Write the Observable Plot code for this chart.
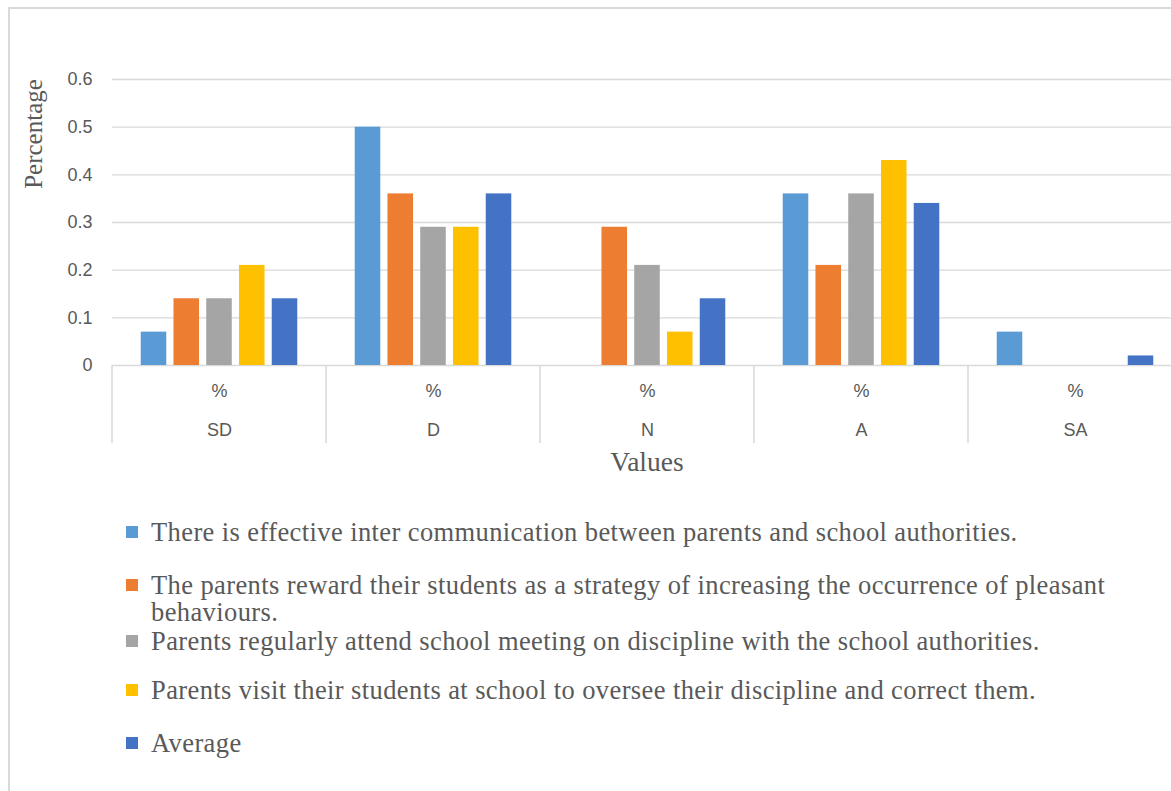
<!DOCTYPE html>
<html>
<head>
<meta charset="utf-8">
<script src="https://cdn.jsdelivr.net/npm/d3@7"></script>
<script src="https://cdn.jsdelivr.net/npm/@observablehq/plot@0.6"></script>
<style>
  html, body { margin: 0; padding: 0; overflow: hidden; background: #fff; width: 1171px; height: 791px; }
  #frame { position: absolute; left: 8px; top: 7px; width: 1200px; height: 800px; border: 2px solid #d9d9d9; box-sizing: border-box; }
  #chart { position: absolute; left: 0; top: 0; width: 1200px; }
  #chart svg { max-width: none !important; }
  .lbl { position: absolute; font-family: "Liberation Serif", "Times New Roman", serif; color: #595959; white-space: nowrap; }
  #ylabel { left: 34px; top: 134px; font-size: 25px; transform: translate(-50%, -50%) rotate(-90deg); }
  #xlabel { left: 647px; top: 462px; font-size: 27.5px; transform: translate(-50%, -50%); }
  .leg { position: absolute; left: 126px; font-family: "Liberation Serif", "Times New Roman", serif; color: #595959; font-size: 26.5px; letter-spacing: 0.4px; line-height: 27px; white-space: nowrap; }
  .leg .sw { position: absolute; left: 0; top: 7.5px; width: 12px; height: 12px; }
  .leg .tx { position: absolute; left: 25px; top: 0; }
</style>
</head>
<body>
<div id="frame"></div>
<div id="chart"></div>
<div class="lbl" id="ylabel">Percentage</div>
<div class="lbl" id="xlabel">Values</div>
<div id="legend"></div>
<script>
const categories = ["SD", "D", "N", "A", "SA"];
const series = [
  "There is effective inter communication between parents and school authorities.",
  "The parents reward their students as a strategy of increasing the occurrence of pleasant behaviours.",
  "Parents regularly attend school meeting on discipline with the school authorities.",
  "Parents visit their students at school to oversee their discipline and correct them.",
  "Average"
];
const colors = ["#5B9BD5", "#ED7D31", "#A5A5A5", "#FFC000", "#4472C4"];
const valuesCommunication = [0.07, 0.50, 0.00, 0.36, 0.07];
const valuesReward        = [0.14, 0.36, 0.29, 0.21, 0.00];
const valuesMeeting       = [0.14, 0.29, 0.21, 0.36, 0.00];
const valuesVisit         = [0.21, 0.29, 0.07, 0.43, 0.00];
const valuesAverage       = [0.14, 0.36, 0.14, 0.34, 0.02];
const yTicks = [0, 0.1, 0.2, 0.3, 0.4, 0.5, 0.6];

const allValues = [valuesCommunication, valuesReward, valuesMeeting, valuesVisit, valuesAverage];
const data = [];
categories.forEach((c, ci) => {
  series.forEach((s, si) => {
    data.push({category: c, series: s, value: allValues[si][ci]});
  });
});

const axisFont = "Liberation Sans, Arial, sans-serif";
const W = 1190, H = 480;
const plot = Plot.plot({
  width: W,
  height: H,
  marginLeft: 112,
  marginRight: 8,
  marginTop: 79,
  marginBottom: 115,
  style: {fontFamily: axisFont, fontSize: "18px", color: "#595959", background: "transparent", overflow: "visible", maxWidth: "none"},
  fx: {domain: categories, padding: 0, round: false, axis: null},
  x: {domain: series, paddingInner: 0.22, paddingOuter: 0.877, round: false, axis: null},
  y: {domain: [0, 0.6], axis: null},
  color: {domain: series, range: colors},
  marks: [
    Plot.ruleY(yTicks, {stroke: "#d9d9d9", strokeWidth: 1.3}),
    Plot.axisY(yTicks, {tickSize: 0, tickPadding: 20, tickFormat: d => d === 0 ? "0" : d.toFixed(1), fill: "#595959", fontSize: 18, label: null}),
    Plot.barY(data, {fx: "category", x: "series", y: "value", fill: "series"}),
    Plot.axisFx({anchor: "bottom", tickSize: 0, tickPadding: 19, tickFormat: () => "%", fill: "#595959", fontSize: 18, label: null}),
    Plot.axisFx({anchor: "bottom", tickSize: 0, tickPadding: 58, tickFormat: d => d, fill: "#595959", fontSize: 18, label: null})
  ]
});
plot.style.maxWidth = "none";
document.getElementById("chart").appendChild(plot);

// category separators below the axis, positioned with the fx scale
const fx = plot.scale("fx");
const svg = d3.select(plot.tagName === "svg" ? plot : plot.querySelector("svg"));
const yScale = plot.scale("y");
const y0 = yScale.apply(0);
const edges = categories.map(c => fx.apply(c));
edges.push(fx.apply(categories[categories.length - 1]) + fx.bandwidth);
svg.append("g").selectAll("line").data(edges).join("line")
  .attr("x1", d => d).attr("x2", d => d)
  .attr("y1", y0).attr("y2", y0 + 78)
  .attr("stroke", "#d9d9d9").attr("stroke-width", 1.5);

// legend (row centres of first lines)
const legendCentres = [532, 585, 641, 690, 743];
const legend = document.getElementById("legend");
series.forEach((s, i) => {
  const row = document.createElement("div");
  row.className = "leg";
  row.style.top = (legendCentres[i] - 13.5) + "px";
  const sw = document.createElement("div");
  sw.className = "sw";
  sw.style.background = colors[i];
  const tx = document.createElement("div");
  tx.className = "tx";
  if (i === 1) {
    tx.innerHTML = "The parents reward their students as a strategy of increasing the occurrence of pleasant<br>behaviours.";
  } else {
    tx.textContent = s;
  }
  row.appendChild(sw);
  row.appendChild(tx);
  legend.appendChild(row);
});
</script>
</body>
</html>
